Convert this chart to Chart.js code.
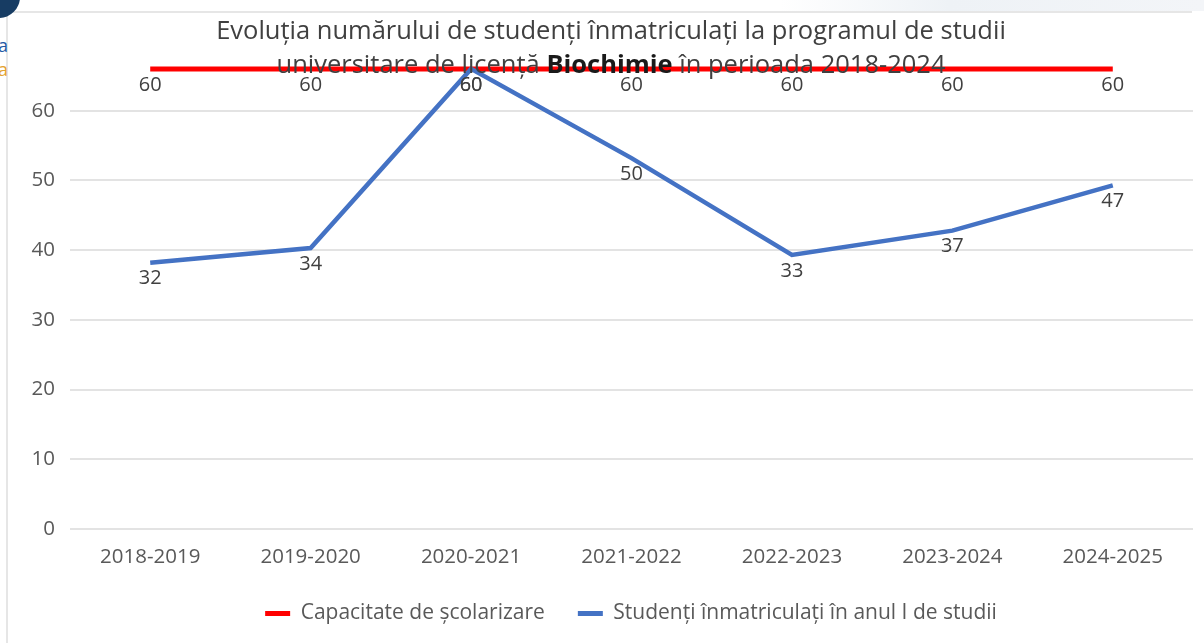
<!DOCTYPE html>
<html>
<head>
<meta charset="utf-8">
<script src="https://cdn.jsdelivr.net/npm/chart.js@4/dist/chart.umd.min.js"></script>
<style>
  html, body { margin: 0; padding: 0; background: #ffffff; }
  #wrap { position: relative; width: 1204px; height: 643px; overflow: hidden; background: #fff; }
  #frameTop { position: absolute; left: 7px; top: 11px; width: 1185px; height: 2px; background: #e6e6e6; }
  #frameLeft { position: absolute; left: 6px; top: 11px; width: 2px; height: 640px; background: #e6e6e6; }
  #topband { position: absolute; left: 780px; top: 0; width: 424px; height: 11px; background: linear-gradient(90deg, #ffffff, #eef2f6 40%, #f3f5f8); }
  #circle { position: absolute; left: -22px; top: -24px; width: 42px; height: 42px; border-radius: 50%; background: #173c63; }
  .frag { position: absolute; left: -2px; font-family: "Open Sans", sans-serif; font-size: 18px; line-height: 18px; }
  #fa { top: 36px; color: #1f5aa6; }
  #fb { top: 60px; color: #e3a232; }
  canvas { position: absolute; left: 0; top: 0; }
</style>
</head>
<body>
<div id="wrap">
  <div id="topband"></div>
  <div id="frameTop"></div>
  <div id="frameLeft"></div>
  <div id="circle"></div>
  <div class="frag" id="fa">a</div>
  <div class="frag" id="fb">a</div>
  <canvas id="c" width="1204" height="643"></canvas>
</div>
<script>
// ---- data ----
const categories = ['2018-2019', '2019-2020', '2020-2021', '2021-2022', '2022-2023', '2023-2024', '2024-2025'];
// plotted heights as they appear against the axis of the picture
const capacityValues = [66, 66, 66, 66, 66, 66, 66];
const enrolledValues = [38.2, 40.3, 66, 53.2, 39.3, 42.8, 49.3];
// data labels printed in the picture
const capacityLabels = ['60', '60', '60', '60', '60', '60', '60'];
const enrolledLabels = ['32', '34', '60', '50', '33', '37', '47'];
const yTickValues = [0, 10, 20, 30, 40, 50, 60];
const seriesNames = ['Capacitate de școlarizare', 'Studenți înmatriculați în anul I de studii'];
const titleLine1 = 'Evoluția numărului de studenți înmatriculați la programul de studii';
const titleLine2 = ['universitare de licență ', 'Biochimie', ' în perioada 2018-2024'];

const FONT = '"Open Sans", sans-serif';
const labelSets = [capacityLabels, enrolledLabels];

const dataLabelPlugin = {
  id: 'dataLabels',
  afterDatasetsDraw(chart) {
    const ctx = chart.ctx;
    ctx.save();
    ctx.font = '20px ' + FONT;
    ctx.fillStyle = '#404040';
    ctx.textAlign = 'center';
    ctx.textBaseline = 'middle';
    chart.data.datasets.forEach((ds, i) => {
      const meta = chart.getDatasetMeta(i);
      meta.data.forEach((pt, j) => {
        ctx.fillText(labelSets[i][j], pt.x, pt.y + 16);
      });
    });
    ctx.restore();
  }
};

const titlePlugin = {
  id: 'overTitle',
  afterDraw(chart) {
    const ctx = chart.ctx;
    const cx = 611;
    const size = 25.5;
    ctx.save();
    ctx.textBaseline = 'middle';
    ctx.textAlign = 'left';
    ctx.font = size + 'px ' + FONT;
    ctx.fillStyle = '#404040';
    const w1 = ctx.measureText(titleLine1).width;
    ctx.fillText(titleLine1, cx - w1 / 2, 32);
    const fonts = [size + 'px ' + FONT, 'bold ' + size + 'px ' + FONT, size + 'px ' + FONT];
    const colors = ['#404040', '#1a1a1a', '#404040'];
    let total = 0;
    const widths = titleLine2.map((t, k) => { ctx.font = fonts[k]; const w = ctx.measureText(t).width; total += w; return w; });
    let x = cx - total / 2;
    titleLine2.forEach((t, k) => {
      ctx.font = fonts[k];
      ctx.fillStyle = colors[k];
      ctx.fillText(t, x, 66);
      x += widths[k];
    });
    ctx.restore();
  }
};

new Chart(document.getElementById('c'), {
  type: 'line',
  data: {
    labels: categories,
    datasets: [
      {
        label: seriesNames[0],
        data: capacityValues,
        borderColor: '#FF0000',
        backgroundColor: '#FF0000',
        borderWidth: 5,
        pointRadius: 0,
        tension: 0,
        order: 1
      },
      {
        label: seriesNames[1],
        data: enrolledValues,
        borderColor: '#4472C4',
        backgroundColor: '#4472C4',
        borderWidth: 4.5,
        pointRadius: 0,
        tension: 0,
        order: 0
      }
    ]
  },
  options: {
    responsive: false,
    animation: false,
    devicePixelRatio: 1,
    layout: { padding: { left: 69, right: 11, top: 41, bottom: 9 } },
    plugins: {
      title: { display: false },
      tooltip: { enabled: false },
      legend: {
        position: 'bottom',
        labels: {
          font: { family: FONT, size: 21 },
          color: '#595959',
          boxWidth: 25,
          boxHeight: 5,
          padding: 33,
          generateLabels: (chart) => Chart.defaults.plugins.legend.labels.generateLabels(chart)
            .map(l => Object.assign(l, { lineWidth: 0 })),
          sort: (a, b) => a.datasetIndex - b.datasetIndex
        }
      }
    },
    scales: {
      x: {
        offset: true,
        grid: { display: false, drawTicks: false },
        border: { display: false },
        afterFit: (scale) => { scale.height = 41; },
        ticks: { font: { family: FONT, size: 20.5 }, color: '#595959', padding: 15.5, maxRotation: 0 }
      },
      y: {
        min: 0,
        max: 70,
        afterBuildTicks: (scale) => { scale.ticks = yTickValues.map(v => ({ value: v })); },
        afterFit: (scale) => { scale.width = 1; },
        grid: { color: '#e3e3e3', lineWidth: 2, drawTicks: false },
        border: { display: false },
        ticks: { font: { family: FONT, size: 20.5 }, color: '#595959', mirror: true, crossAlign: 'far', padding: -38.5 }
      }
    }
  },
  plugins: [dataLabelPlugin, titlePlugin]
});
</script>
</body>
</html>
